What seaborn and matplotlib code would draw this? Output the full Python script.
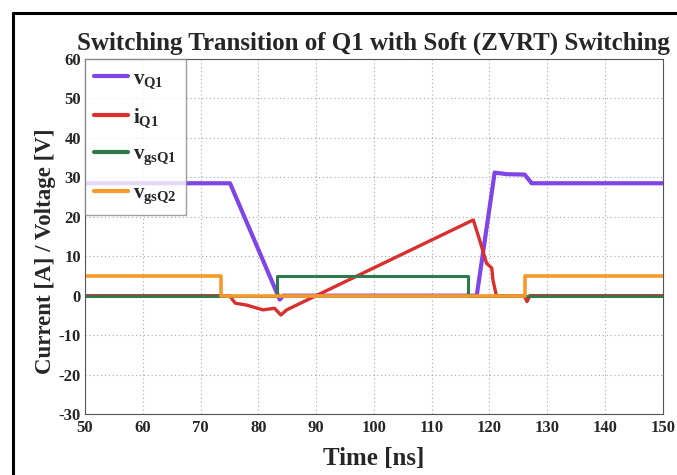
import matplotlib
matplotlib.use("Agg")
import matplotlib.pyplot as plt
import seaborn as sns
import pandas as pd
from matplotlib.lines import Line2D

# waveform breakpoints (time in ns)
t_vq1 = [50, 75.1, 83.7, 84.3, 117.8, 120.9, 123.0, 126.1, 127.3, 150]
v_q1 = [28.5, 28.5, -1.0, 0.0, 0.0, 31.2, 30.8, 30.7, 28.5, 28.5]

t_iq1 = [50, 75.0, 76.0, 78.0, 80.8, 82.8, 83.9, 84.9, 117.2, 118.3, 119.5, 120.4, 120.6, 121.2, 126.0, 126.5, 127.0, 150]
i_q1 = [0.0, 0.0, -1.9, -2.4, -3.6, -3.2, -4.9, -3.6, 19.2, 14.1, 8.2, 7.0, 4.0, 0.0, 0.0, -1.5, 0.0, 0.0]

t_gs1 = [50, 83.3, 83.3, 116.2, 116.2, 150]
v_gs1 = [0, 0, 5, 5, 0, 0]

t_gs2 = [50, 73.6, 73.6, 126.1, 126.1, 150]
v_gs2 = [5, 5, 0, 0, 5, 5]

labels = [r"$\mathbf{v_{Q1}}$", r"$\mathbf{i_{Q1}}$", r"$\mathbf{v_{gsQ1}}$", r"$\mathbf{v_{gsQ2}}$"]
colors = ["#7f45e6", "#d92f2f", "#2f7a4c", "#f59a2a"]
widths = [3.0, 2.4, 2.2, 2.6]

sns.set_style("white")
plt.rcParams["font.family"] = ["Liberation Serif", "DejaVu Serif"]
plt.rcParams["font.weight"] = "bold"
plt.rcParams["axes.unicode_minus"] = False
plt.rcParams["mathtext.fontset"] = "custom"
plt.rcParams["mathtext.rm"] = "Liberation Serif:bold"
plt.rcParams["mathtext.it"] = "Liberation Serif:bold"
plt.rcParams["mathtext.bf"] = "Liberation Serif:bold"

fig = plt.figure(figsize=(6.77, 4.75), dpi=100)
ax = fig.add_axes([0.1256, 0.1284, 0.979 - 0.1256, 0.8758 - 0.1284])

series = [(t_vq1, v_q1), (t_iq1, i_q1), (t_gs1, v_gs1), (t_gs2, v_gs2)]
for (t, v), c, w in zip(series, colors, widths):
    df = pd.DataFrame({"t": t, "v": v})
    sns.lineplot(data=df, x="t", y="v", color=c, linewidth=w, sort=False,
                 estimator=None, ax=ax, solid_joinstyle="round")

ax.set_xlim(50, 150)
ax.set_ylim(-30, 60)
ax.set_xticks(range(50, 151, 10))
ax.set_yticks(range(-30, 61, 10))
ax.grid(True, linestyle=(0, (1, 2.5)), color="#a8a8a8", linewidth=0.8)
ax.tick_params(axis="both", direction="in", length=3, labelsize=12, color="#444444")
ax.tick_params(axis="x", pad=4)
ax.tick_params(axis="y", pad=3)
for lab in ax.get_xticklabels() + ax.get_yticklabels():
    lab.set_fontweight("bold")
for s in ax.spines.values():
    s.set_color("#555555")
    s.set_linewidth(0.8)

ax.set_title("Switching Transition of Q1 with Soft (ZVRT) Switching",
             fontsize=18, fontweight="bold", pad=7)
ax.set_xlabel("Time [ns]", fontsize=18, fontweight="bold", labelpad=8)
ax.set_ylabel("Current [A] / Voltage [V]", fontsize=16.5, fontweight="bold")
ax.yaxis.set_label_coords(-0.05, 0.46)

handles = [Line2D([0], [0], color=c, linewidth=3) for c in colors]
leg = ax.legend(handles, labels, loc="upper left", fontsize=15, frameon=True,
                fancybox=False, borderaxespad=0.0, handlelength=1.6,
                labelspacing=0.75, handletextpad=0.25, borderpad=0.45)
leg.get_frame().set_edgecolor("#888888")
leg.get_frame().set_linewidth(1.0)

# outer frame (left and top edges of the original picture)
fig.add_artist(Line2D([13 / 677, 13 / 677], [0, 1 - 13 / 475], color="black",
                      linewidth=2.2, transform=fig.transFigure))
fig.add_artist(Line2D([13 / 677, 1], [1 - 13 / 475, 1 - 13 / 475], color="black",
                      linewidth=2.2, transform=fig.transFigure))

fig.savefig("out.png", dpi=100)
